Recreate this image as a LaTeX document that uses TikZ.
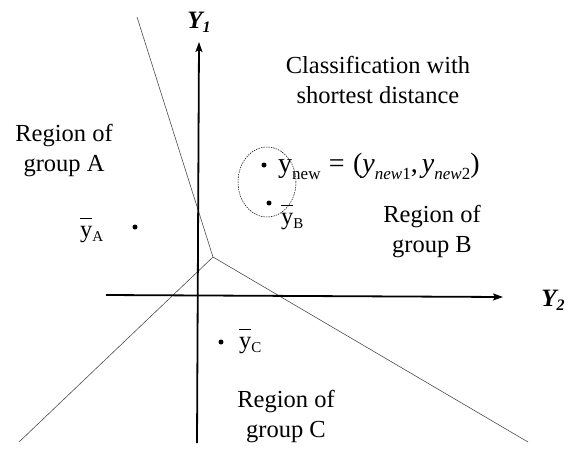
\documentclass[tikz,border=0pt]{standalone}
\usepackage{fontspec}
\setmainfont{Liberation Serif}
\usetikzlibrary{arrows.meta,shapes.geometric}
\newcommand{\ybar}{\makebox[0pt][l]{\rule[0.72em]{0.5em}{0.9pt}}y}
\newcommand{\sbx}[1]{\raisebox{-4pt}{\fontsize{15}{15}\selectfont #1}}
\newcommand{\sbn}[1]{\raisebox{-7pt}{\fontsize{17}{17}\selectfont #1}}
\begin{document}
\begin{tikzpicture}[x=1pt,y=-1pt,
  lbl/.style={font=\fontsize{24.5}{30}\selectfont, align=center, inner sep=0pt},
  ptdot/.style={circle, fill=black, inner sep=0pt, minimum size=5pt},
  axis/.style={line width=1.8pt, -{Stealth[length=10pt,width=7pt,inset=2pt]}},
  border/.style={line width=0.6pt, black!70},
  axlbl/.style={font=\fontsize{25}{25}\selectfont\bfseries\itshape, inner sep=0pt},
  ring/.style={draw, ellipse, line width=0.5pt, dash pattern=on 1.5pt off 1pt, minimum width=58pt, minimum height=70pt, inner sep=0pt}
]
\useasboundingbox (0,0) rectangle (570,451);
% region borders
\coordinate (j) at (213,257);
\coordinate (bt) at (137,17);
\coordinate (bl) at (19,442);
\coordinate (br) at (528,442);
\draw[border] (bt) -- (j) -- (br);
\draw[border] (j) -- (bl);
% axes
\coordinate (xs) at (106,295);
\coordinate (xe) at (503,297);
\coordinate (ys) at (197,443);
\coordinate (ye) at (199,42);
\draw[axis] (xs) -- (xe);
\draw[axis] (ys) -- (ye);
\node[axlbl] (Y1) at (199,22) {Y\raisebox{-4pt}{\fontsize{16}{16}\selectfont 1}};
\node[axlbl] (Y2) at (553,300) {Y\raisebox{-4pt}{\fontsize{16}{16}\selectfont 2}};
% texts (base = baseline of last line)
\node[lbl, anchor=base] (cls) at (378,103) {Classification with\\shortest distance};
\node[lbl, anchor=base] (rA) at (64,171) {Region of\\group A};
\node[lbl, anchor=base] (rB) at (432,252) {Region of\\group B};
\node[lbl, anchor=base] (rC) at (286,437) {Region of\\group C};
% points
\node[ptdot] (pn) at (264,165) {};
\node[ptdot] (pb) at (269,203) {};
\node[ptdot] (pa) at (135,227) {};
\node[ptdot] (pc) at (221,342) {};
\node[ring] (ell) at (267,182) {};
\node[lbl, anchor=base west] (lA) at (80,237) {\ybar\sbx{A}};
\node[lbl, anchor=base west] (lB) at (281,224) {\ybar\sbx{B}};
\node[lbl, anchor=base west] (lC) at (239,348) {\ybar\sbx{C}};
\node[inner sep=0pt, anchor=base west, font=\fontsize{28}{30}\selectfont] (ln) at (278,172)
  {y\sbn{new}\hspace{0.3em}=\hspace{0.3em}(\textit{y}\sbn{\textit{new}1},\hspace{0.15em}\textit{y}\sbn{\textit{new}2})};
\end{tikzpicture}
\end{document}
